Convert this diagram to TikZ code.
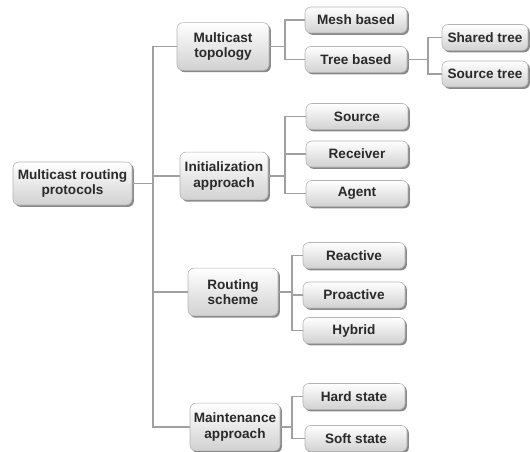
\documentclass[tikz,border=0pt]{standalone}
\usepackage{fontspec}
\setmainfont{Liberation Sans}
\usetikzlibrary{shadows}
\definecolor{txt}{HTML}{2A2A2A}
\definecolor{conncol}{HTML}{A0A0A0}
\definecolor{bordercol}{HTML}{B4B4B4}
\definecolor{shadcol}{HTML}{7C7C7C}
\begin{document}
\begin{tikzpicture}[x=0.03cm,y=-0.03cm,
  box/.style={draw=bordercol, line width=0.5pt, rounded corners=5pt,
    top color=white, bottom color=black!18, align=center, text=txt,
    font=\fontsize{11.6}{13}\selectfont\bfseries, inner sep=1pt,
    drop shadow={shadow xshift=1.6pt, shadow yshift=-1.6pt, fill=shadcol, opacity=0.9}},
  leaf/.style={box, minimum width=3.06cm, minimum height=0.78cm},
  mid/.style={box, minimum height=1.43cm},
  conn/.style={draw=conncol, line width=1.3pt}]
\useasboundingbox (0,0) rectangle (530,452);
% nodes
\node[box, minimum width=3.57cm, minimum height=1.29cm] (root) at (72.5,183.5) {Multicast routing\\protocols};
\node[mid, minimum width=2.76cm] (topo) at (223,46.5) {Multicast\\topology};
\node[mid, minimum width=2.64cm] (init) at (224,176) {Initialization\\approach};
\node[mid, minimum width=2.70cm] (rout) at (233,292) {Routing\\scheme};
\node[mid, minimum width=2.70cm] (maint) at (235,427) {Maintenance\\approach};
\node[leaf] (mesh) at (356,20) {Mesh based};
\node[leaf] (tree) at (356,59.5) {Tree based};
\node[leaf, minimum width=2.58cm] (shared) at (485,37.5) {Shared tree};
\node[leaf, minimum width=2.58cm] (srctree) at (485,74) {Source tree};
\node[leaf] (source) at (357,116.5) {Source};
\node[leaf] (recv) at (357,154) {Receiver};
\node[leaf] (agent) at (357,193.5) {Agent};
\node[leaf] (react) at (354,255.5) {Reactive};
\node[leaf] (proact) at (354,295) {Proactive};
\node[leaf] (hybrid) at (354,330.5) {Hybrid};
\node[leaf] (hard) at (354,396.5) {Hard state};
\node[leaf] (soft) at (356,438.5) {Soft state};
% fork points
\coordinate (t0) at (153,183.5);
\coordinate (f1) at (285,46.5);
\coordinate (f2) at (428,59.5);
\coordinate (f3) at (285,176);
\coordinate (f4) at (292,292);
\coordinate (f5) at (292,427);
% connectors
\draw[conn] (root.east) -- (t0);
\draw[conn] (t0) |- (topo.west);
\draw[conn] (t0) |- (init.west);
\draw[conn] (t0) |- (rout.west);
\draw[conn] (t0) |- (maint.west);
\draw[conn] (topo.east) -- (f1);
\draw[conn] (f1) |- (mesh.west);
\draw[conn] (f1) |- (tree.west);
\draw[conn] (tree.east) -- (f2);
\draw[conn] (f2) |- (shared.west);
\draw[conn] (f2) |- (srctree.west);
\draw[conn] (init.east) -- (f3);
\draw[conn] (f3) |- (source.west);
\draw[conn] (f3) |- (recv.west);
\draw[conn] (f3) |- (agent.west);
\draw[conn] (rout.east) -- (f4);
\draw[conn] (f4) |- (react.west);
\draw[conn] (f4) |- (proact.west);
\draw[conn] (f4) |- (hybrid.west);
\draw[conn] (maint.east) -- (f5);
\draw[conn] (f5) |- (hard.west);
\draw[conn] (f5) |- (soft.west);
\end{tikzpicture}
\end{document}
